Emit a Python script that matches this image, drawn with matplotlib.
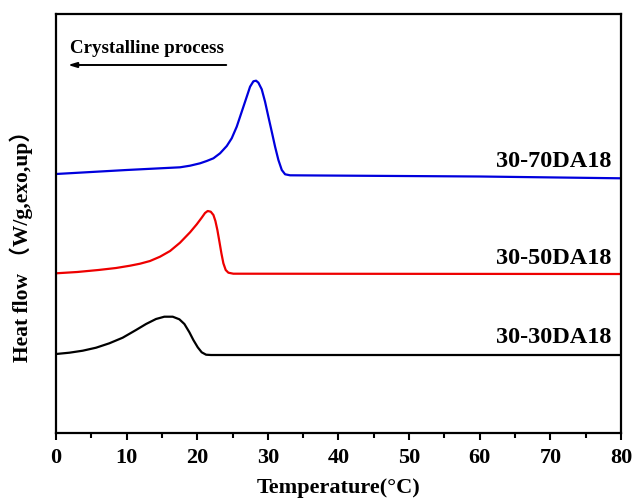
import matplotlib.pyplot as plt
from matplotlib.ticker import MultipleLocator

# readings from the DSC cooling curves (y in arbitrary stacked units)
x_70 = [0, 10, 17.56, 18.98, 20.40, 21.34, 22.29, 23.23, 24.18, 24.88, 25.59, 26.30, 27.01, 27.48,
        27.95, 28.33, 28.66, 29.13, 29.60, 30.07, 30.55, 31.02, 31.49, 31.97, 32.44, 33.14, 37.4, 60, 80]
y_70 = [259, 263, 265.7, 267.3, 269.7, 272, 274.7, 279.7, 287, 294.7, 306.3, 321.3, 336.3, 346.3,
        351.7, 352.3, 350.3, 343.7, 331.3, 316.3, 301.3, 286.3, 273, 263, 258.7, 257.7, 257.5, 256.5, 254.7]

x_50 = [0, 3, 6, 8.5, 10.48, 11.90, 13.31, 14.73, 16.15, 17.56, 18.98, 19.93, 20.63, 21.10, 21.48,
        21.91, 22.29, 22.57, 22.85, 23.14, 23.42, 23.70, 24.03, 24.41, 25.11, 80]
y_50 = [159.7, 161, 163, 165, 167.3, 169.3, 172, 176.3, 182, 190.3, 200.7, 208.7, 215.3, 220, 222,
        221.3, 218, 212, 203, 191.3, 179.7, 169.7, 163, 160.3, 159.3, 159]

x_30 = [0, 1.89, 3.78, 5.67, 7.55, 9.44, 11.33, 12.75, 14.16, 15.34, 16.53, 17.47, 18.18, 18.89,
        19.45, 20.07, 20.63, 21.25, 21.95, 80]
y_30 = [79, 80.3, 82.3, 85.3, 89.7, 95.3, 103, 109, 114, 116.3, 116.3, 113.7, 109, 100.7,
        93, 85.7, 80.7, 78.3, 78, 78]

names = ['30-70DA18', '30-50DA18', '30-30DA18']
label_y = [271.3, 175, 96]

serif = ['Liberation Serif', 'Noto Sans CJK SC']
plt.rcParams['font.family'] = serif
plt.rcParams['font.weight'] = 'bold'

fig = plt.figure(figsize=(6.32, 4.98), dpi=100)
ax = fig.add_axes([0.0886, 0.1305, 0.894, 0.8414])

ax.plot(x_70, y_70, color='#0000dd', lw=1.6)
ax.plot(x_50, y_50, color='#ee0000', lw=1.6)
ax.plot(x_30, y_30, color='black', lw=1.6)

for name, ly in zip(names, label_y):
    ax.text(78.7, ly, name, ha='right', va='center', fontsize=17.5, fontweight='bold')

ax.annotate('', xy=(1.3, 368), xytext=(24.5, 368),
            arrowprops=dict(arrowstyle='-|>,head_length=0.5,head_width=0.15', color='black', lw=1.4))
ax.text(2.0, 384, 'Crystalline process', ha='left', va='center', fontsize=13.6, fontweight='bold')

ax.set_xlim(0, 80)
ax.set_ylim(0, 419)
ax.xaxis.set_major_locator(MultipleLocator(10))
ax.xaxis.set_minor_locator(MultipleLocator(5))
ax.set_yticks([])
ax.tick_params(axis='x', which='major', direction='out', length=5, width=1.5, labelsize=16, pad=6)
ax.tick_params(axis='x', which='minor', direction='out', length=3.5, width=1.5)
for lab in ax.get_xticklabels():
    lab.set_fontweight('bold')
for sp in ax.spines.values():
    sp.set_linewidth(1.6)

ax.set_xlabel('Temperature(°C)', fontsize=16, fontweight='bold', labelpad=7)
ax.set_ylabel('Heat flow （W/g,exo,up）', fontsize=15.5, fontweight='bold')
ax.yaxis.set_label_coords(-0.04, 0.458)

fig.savefig('out.png', dpi=100)
